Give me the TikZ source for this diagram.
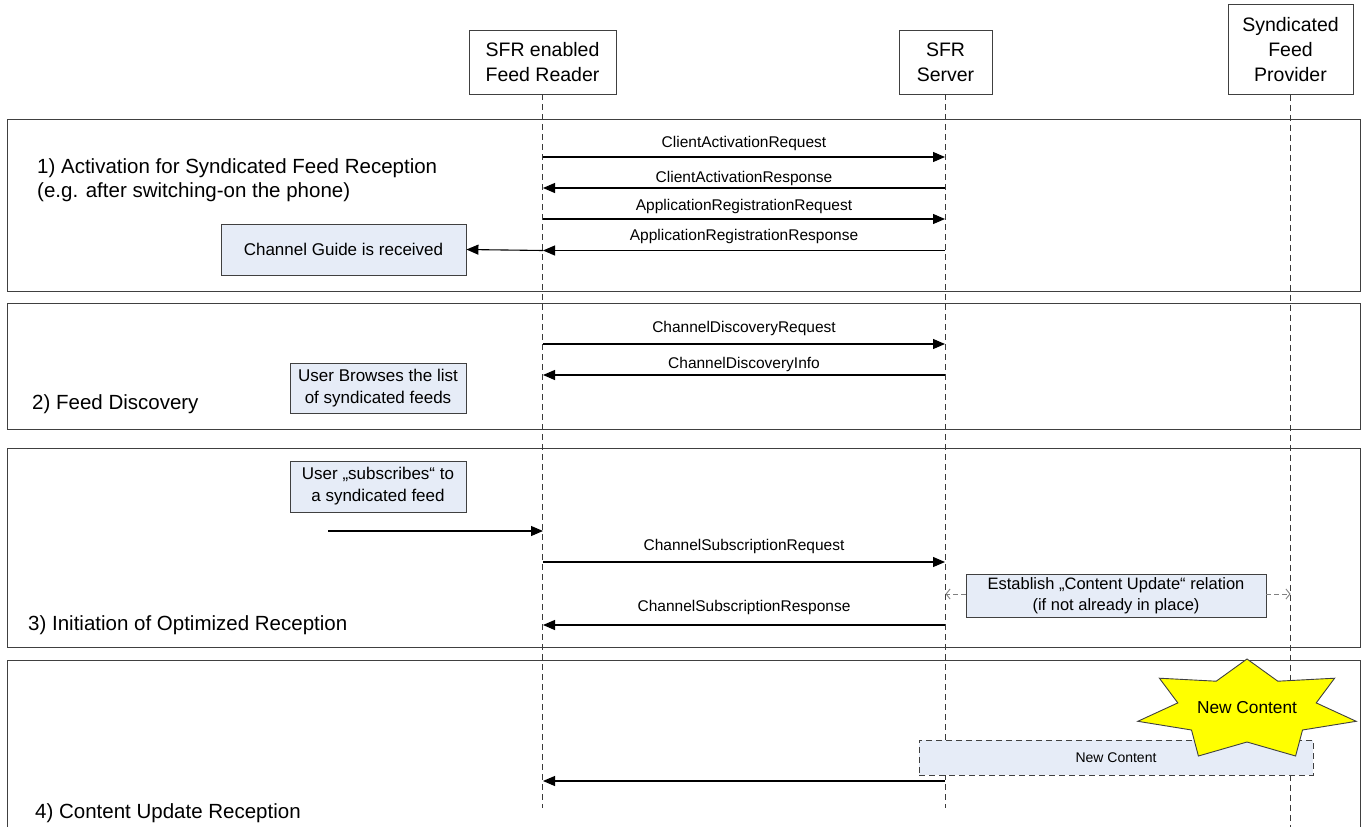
\documentclass[tikz,border=0pt]{standalone}
\usepackage{fontspec}
\setmainfont{Liberation Sans}
\usetikzlibrary{arrows.meta}
\definecolor{boxblue}{RGB}{230,236,247}
\definecolor{edge}{RGB}{64,64,64}
\definecolor{stary}{RGB}{255,255,0}
\begin{document}
\begin{tikzpicture}[x=1pt,y=-1pt,
  hdr/.style={draw=edge, line width=0.9pt, fill=white, align=center, inner sep=0pt, font=\fontsize{19.5}{25}\selectfont},
  secbox/.style={draw=edge, line width=0.9pt},
  seclabel/.style={anchor=west, align=left, inner sep=0pt, font=\fontsize{20.5}{24}\selectfont},
  life/.style={draw=edge!90!black, line width=0.9pt, dash pattern=on 6pt off 4pt},
  msg/.style={draw=black, line width=1.1pt, -{Triangle[length=12pt,width=10pt]}},
  msglabel/.style={font=\fontsize{15.5}{18}\selectfont, inner sep=0pt},
  note/.style={draw=edge, line width=0.9pt, fill=boxblue, align=center, inner sep=0pt, font=\fontsize{17}{22}\selectfont},
  rel/.style={draw=gray, line width=0.9pt, dash pattern=on 5pt off 3pt, -{Straight Barb[length=4pt,width=10pt]}},
  dnote/.style={draw=edge, line width=0.9pt, dash pattern=on 6pt off 4pt, fill=boxblue, inner sep=0pt, font=\fontsize{14}{17}\selectfont},
  starstyle/.style={draw=edge, line width=0.9pt, fill=stary},
]
\useasboundingbox (0,0) rectangle (1365,827);
\fill[white] (0,0) rectangle (1365,827);

% section frames
\draw[secbox] (7,119) rectangle (1360,291);
\draw[secbox] (7,303) rectangle (1360,429);
\draw[secbox] (7,448) rectangle (1360,647);
\draw[secbox] (7,830) -- (7,660) -- (1360,660) -- (1360,830);

% section labels
\node[seclabel] (l1) at (37,180) {1) Activation for Syndicated Feed Reception\\(e.g. after switching-on the phone)};
\node[seclabel] (l2) at (32,404) {2) Feed Discovery};
\node[seclabel] (l3) at (28,625) {3) Initiation of Optimized Reception};
\node[seclabel] (l4) at (35,813) {4) Content Update Reception};

% header boxes
\node[hdr, minimum width=147pt, minimum height=64pt] (fr) at (542.5,62) {SFR enabled\\Feed Reader};
\node[hdr, minimum width=93pt, minimum height=64pt] (srv) at (945.5,62) {SFR\\Server};
\node[hdr, minimum width=125pt, minimum height=90pt] (sfp) at (1290.5,49.5) {Syndicated\\Feed\\Provider};

% lifelines
\coordinate (frEnd) at (542.5,808);
\coordinate (srvEnd) at (945.5,808);
\coordinate (sfpEnd) at (1290.5,830);
\draw[life] (fr.south) -- (frEnd);
\draw[life] (srv.south) -- (srvEnd);
\draw[life] (sfp.south) -- (sfpEnd);

% section 1 messages
\coordinate (a1) at (543,157); \coordinate (b1) at (945,157);
\coordinate (a2) at (543,188); \coordinate (b2) at (945,188);
\coordinate (a3) at (543,219); \coordinate (b3) at (945,219);
\coordinate (a4) at (543,250.5); \coordinate (b4) at (945,250.5);
\draw[msg] (a1) -- node[msglabel, yshift=14pt] (m1) {ClientActivationRequest} (b1);
\draw[msg] (b2) -- node[msglabel, yshift=10pt] (m2) {ClientActivationResponse} (a2);
\draw[msg] (a3) -- node[msglabel, yshift=13pt] (m3) {ApplicationRegistrationRequest} (b3);
\draw[msg] (b4) -- node[msglabel, yshift=14pt] (m4) {ApplicationRegistrationResponse} (a4);

\node[note, minimum width=245pt, minimum height=51pt] (cg) at (343.5,249.5) {Channel Guide is received};
\draw[msg] (a4) -- (cg.east);

% section 2
\coordinate (a5) at (543,344); \coordinate (b5) at (945,344);
\coordinate (a6) at (543,375); \coordinate (b6) at (945,375);
\draw[msg] (a5) -- node[msglabel, yshift=16pt] (m5) {ChannelDiscoveryRequest} (b5);
\draw[msg] (b6) -- node[msglabel, yshift=11pt] (m6) {ChannelDiscoveryInfo} (a6);
\node[note, minimum width=176pt, minimum height=50pt] (ub) at (378,388) {User Browses the list\\of syndicated feeds};

% section 3
\node[note, minimum width=176pt, minimum height=51pt] (us) at (378,486.5) {User \char"201E subscribes\char"201C{} to\\a syndicated feed};
\coordinate (s0) at (328,531); \coordinate (a7) at (543,531);
\draw[msg] (s0) -- (a7);
\coordinate (a8) at (543,562); \coordinate (b8) at (945,562);
\coordinate (a9) at (543,625); \coordinate (b9) at (945,625);
\draw[msg] (a8) -- node[msglabel, yshift=16pt] (m8) {ChannelSubscriptionRequest} (b8);
\draw[msg] (b9) -- node[msglabel, yshift=18pt] (m9) {ChannelSubscriptionResponse} (a9);
\node[note, minimum width=300pt, minimum height=43pt, font=\fontsize{16.5}{21}\selectfont] (est) at (1116,595.5) {Establish \char"201E Content Update\char"201C{} relation\\(if not already in place)};
\coordinate (srvRel) at (945.5,594);
\coordinate (sfpRel) at (1290.5,594);
\draw[rel] (est.west |- srvRel) -- (srvRel);
\draw[rel] (est.east |- sfpRel) -- (sfpRel);

% section 4
\node[dnote, minimum width=394pt, minimum height=35pt] (nc) at (1116,757.5) {New Content};
\coordinate (a10) at (543,781); \coordinate (b10) at (945,781);
\draw[msg] (b10) -- (a10);

\draw[starstyle] (1247,659) -- (1277.8,681.2) -- (1334.6,678.2) -- (1316.2,702.9)
  -- (1356.2,721.3) -- (1302.5,730.0) -- (1295.6,756.0) -- (1247,742)
  -- (1198.4,756.0) -- (1191.5,730.0) -- (1137.8,721.3) -- (1177.8,702.9)
  -- (1159.4,678.2) -- (1216.2,681.2) -- cycle;
\node[font=\fontsize{17.3}{20}\selectfont, inner sep=0pt] (ncs) at (1247,708) {New Content};
\end{tikzpicture}
\end{document}
